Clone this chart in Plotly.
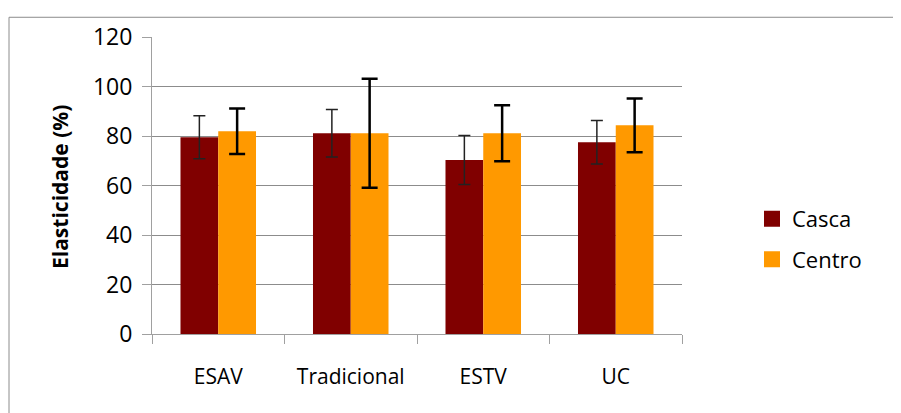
import plotly.graph_objects as go

categories = ["ESAV", "Tradicional", "ESTV", "UC"]
casca = [79.5, 81.1, 70.3, 77.5]
casca_err = [8.7, 9.6, 9.9, 8.8]
centro = [81.9, 81.1, 81.1, 84.3]
centro_err = [9.2, 22.0, 11.3, 10.9]
y_ticks = [0, 20, 40, 60, 80, 100, 120]

FONT = "Open Sans"
CASCA = "#800000"
CENTRO = "#FF9900"

# page has an 8px body margin, so figure coords = page coords - 8
OFF = 8
L, R, T, B = 152 - OFF, 682 - OFF, 33 - OFF, 334 - OFF
W, H = 901, 413

def px(x):
    return (x - OFF - L) / (R - L)

def py(y):
    return (B - (y - OFF)) / (B - T)

fig = go.Figure()
fig.add_trace(go.Bar(
    x=categories, y=casca, name="Casca", marker_color=CASCA, marker_line_width=0,
    showlegend=False,
    error_y=dict(type="data", array=casca_err, visible=True, color="#222222",
                 thickness=1.5, width=6),
))
fig.add_trace(go.Bar(
    x=categories, y=centro, name="Centro", marker_color=CENTRO, marker_line_width=0,
    showlegend=False,
    error_y=dict(type="data", array=centro_err, visible=True, color="#000000",
                 thickness=2.5, width=8),
))
# legend entries with bigger square keys
for name, col in [("Casca", CASCA), ("Centro", CENTRO)]:
    fig.add_trace(go.Scatter(x=[None], y=[None], mode="markers", name=name,
                             legendgroup=name,
                             marker=dict(symbol="square", size=17, color=col)))

fig.update_layout(
    width=W, height=H,
    margin=dict(l=L, r=W - R, t=T, b=H - B),
    paper_bgcolor="white", plot_bgcolor="white",
    barmode="group", bargap=0.43, bargroupgap=0,
    font=dict(family=FONT, color="#000000"),
    showlegend=True,
    legend=dict(x=px(752), y=py(196), xanchor="left", yanchor="top",
                font=dict(size=22, family=FONT), itemwidth=30,
                tracegroupgap=9, bgcolor="rgba(0,0,0,0)"),
    xaxis=dict(
        showline=True, linecolor="#a0a0a0", linewidth=1,
        ticks="outside", tickson="boundaries", ticklen=9, tickcolor="#a0a0a0",
        tickfont=dict(size=21, family=FONT), ticklabelstandoff=24,
        showgrid=False,
    ),
    yaxis=dict(
        range=[0, 120], tickvals=y_ticks,
        showline=True, linecolor="#a0a0a0", linewidth=1,
        ticks="outside", ticklen=9, tickcolor="#a0a0a0",
        tickfont=dict(size=23, family=FONT), ticklabelstandoff=5,
        showgrid=True, gridcolor="#8c8c8c", gridwidth=1, zeroline=False,
    ),
    annotations=[dict(
        text="<b>Elasticidade (%)</b>", textangle=-90, showarrow=False,
        xref="paper", yref="paper", x=px(60), y=py(185),
        xanchor="center", yanchor="middle",
        font=dict(size=21, family=FONT),
    )],
    shapes=[dict(
        type="rect", xref="paper", yref="paper",
        x0=px(9), x1=px(897), y0=py(440), y1=py(13),
        line=dict(color="#8c8c8c", width=1), fillcolor="rgba(0,0,0,0)", layer="below",
    )],
)

fig.write_html("out.html")
